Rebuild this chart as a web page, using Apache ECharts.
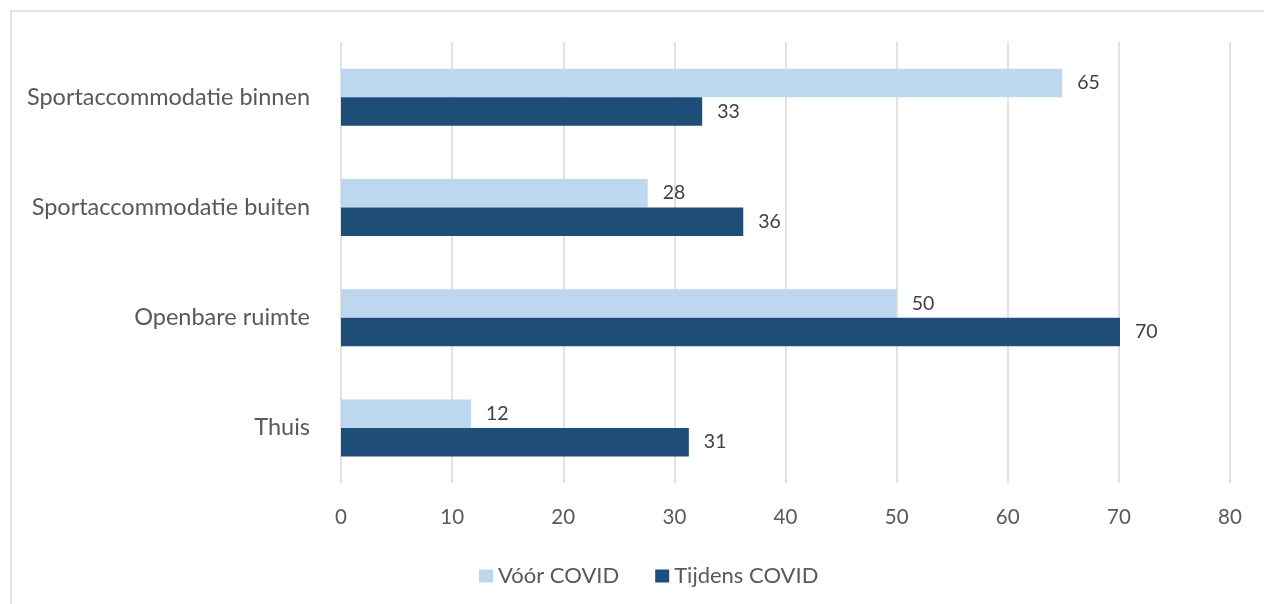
<!DOCTYPE html>
<html>
<head>
<meta charset="utf-8">
<script src="https://cdn.jsdelivr.net/npm/echarts@6/dist/echarts.min.js"></script>
<style>
html,body{margin:0;padding:0;background:#fff;}
#chart{width:1264px;height:604px;}
</style>
</head>
<body>
<div id="chart"></div>
<script>
const categories = ['Sportaccommodatie binnen', 'Sportaccommodatie buiten', 'Openbare ruimte', 'Thuis'];
const voorCovid = [64.9, 27.6, 50.0, 11.7];
const tijdensCovid = [32.5, 36.2, 70.1, 31.3];
const seriesNames = ['Vóór COVID', 'Tijdens COVID'];

const chart = echarts.init(document.getElementById('chart'));
const font = 'Lato, "Open Sans", sans-serif';
const labelStyle = {
  show: true, position: 'right', distance: 15, color: '#404040', fontSize: 19.5, fontFamily: font,
  formatter: p => String(Math.round(p.value))
};
chart.setOption({
  animation: false,
  graphic: [{
    type: 'rect',
    shape: { x: 11, y: 11, width: 1400, height: 800 },
    style: { fill: 'none', stroke: '#d9d9d9', lineWidth: 1.5 },
    silent: true
  }],
  grid: { left: 341, right: 34, top: 42, bottom: 121 },
  xAxis: {
    type: 'value', min: 0, max: 80, interval: 10,
    axisLine: { show: false }, axisTick: { show: false },
    splitLine: { lineStyle: { color: '#d9d9d9', width: 1.5 } },
    axisLabel: { color: '#595959', fontSize: 20.5, fontFamily: font, margin: 24 }
  },
  yAxis: {
    type: 'category', data: categories, inverse: true,
    axisLine: { show: false }, axisTick: { show: false },
    axisLabel: { color: '#595959', fontSize: 23.5, fontFamily: font, margin: 31 }
  },
  legend: {
    top: 560, left: 474,
    itemWidth: 14, itemHeight: 13, itemGap: 36,
    icon: 'rect',
    textStyle: { color: '#595959', fontSize: 22, fontFamily: font },
    data: seriesNames
  },
  series: [
    {
      name: seriesNames[0], type: 'bar', data: voorCovid,
      barWidth: 28.5, barGap: '0%',
      itemStyle: { color: '#BDD7EE' },
      label: labelStyle
    },
    {
      name: seriesNames[1], type: 'bar', data: tijdensCovid,
      barWidth: 28.5, barGap: '0%',
      itemStyle: { color: '#1F4E79' },
      label: labelStyle
    }
  ]
});
</script>
</body>
</html>
